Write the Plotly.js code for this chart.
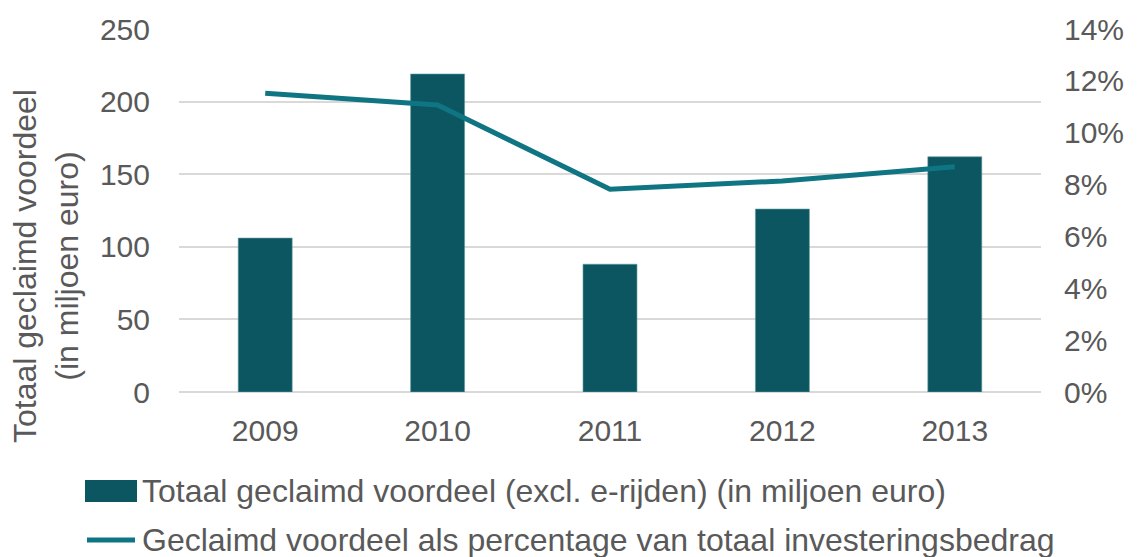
<!DOCTYPE html>
<html><head><meta charset="utf-8">
<script src="https://cdn.plot.ly/plotly-3.0.1.min.js"></script>
<style>html,body{margin:0;padding:0;background:#fff}#chart{width:1139px;height:557px}</style>
</head><body><div id="chart"></div>
<script>
const years = ['2009', '2010', '2011', '2012', '2013'];
const claimed = [106, 219, 88, 126, 162];
const percentage = [11.52, 11.07, 7.82, 8.14, 8.69];
const barName = 'Totaal geclaimd voordeel (excl. e-rijden) (in miljoen euro)';
const lineName = 'Geclaimd voordeel als percentage van totaal investeringsbedrag';
const yTitle = 'Totaal geclaimd voordeel<br>(in miljoen euro)';
const leftTicks = [0, 50, 100, 150, 200, 250];
const rightTicks = [0, 2, 4, 6, 8, 10, 12, 14];

const font = 'Liberation Sans, Arial, sans-serif';
const grey = '#595959';
const barColor = '#0B5660';
const lineColor = '#0F7583';

const W = 1139, H = 557;
const L = 179, T = 29, PW = 862, PH = 363;
const px = x => (x - L) / PW;
const py = y => (T + PH - y) / PH;

Plotly.newPlot('chart', [
  {type: 'bar', x: years, y: claimed, name: barName,
   marker: {color: barColor, line: {color: '#5f9aa0', width: 0.6}}, yaxis: 'y'},
  {type: 'scatter', mode: 'lines', x: years, y: percentage, name: lineName,
   line: {color: lineColor, width: 5}, yaxis: 'y2'}
], {
  width: W, height: H,
  margin: {l: L, r: W - L - PW, t: T, b: H - T - PH},
  paper_bgcolor: '#fff', plot_bgcolor: '#fff',
  font: {family: font, color: grey, size: 30},
  bargap: 0.687,
  showlegend: false,
  xaxis: {type: 'category', showgrid: false, zeroline: false, showline: false,
          ticks: '', tickfont: {size: 30, color: grey}, ticklabelstandoff: 18},
  yaxis: {range: [0, 250], tickvals: leftTicks, ticktext: leftTicks.map(String),
          showgrid: true, gridcolor: '#d9d9d9', gridwidth: 2, zeroline: true, zerolinecolor: '#d9d9d9', zerolinewidth: 2,
          showline: false, ticks: '', ticklabelstandoff: 28,
          tickfont: {size: 30, color: grey}},
  yaxis2: {range: [0, 14], tickvals: rightTicks, ticktext: rightTicks.map(v => v + '%'),
           overlaying: 'y', side: 'right', showgrid: false, zeroline: false, showline: false,
           ticks: '', ticklabelstandoff: 22, tickfont: {size: 30, color: grey}},
  shapes: [
    {type: 'rect', xref: 'paper', yref: 'paper', layer: 'above',
     x0: px(85), x1: px(137), y0: py(480), y1: py(502),
     fillcolor: barColor, line: {width: 0}},
    {type: 'line', xref: 'paper', yref: 'paper', layer: 'above',
     x0: px(87), x1: px(135), y0: py(540), y1: py(540),
     line: {color: lineColor, width: 5}}
  ],
  annotations: [
    {xref: 'paper', yref: 'paper', x: px(46), y: py(266), xanchor: 'center', yanchor: 'middle',
     textangle: -90, text: yTitle, showarrow: false, font: {size: 32, color: grey}},
    {xref: 'paper', yref: 'paper', x: px(140), y: py(491), xanchor: 'left', yanchor: 'middle',
     text: barName, showarrow: false, font: {size: 32, color: grey}},
    {xref: 'paper', yref: 'paper', x: px(140), y: py(540), xanchor: 'left', yanchor: 'middle',
     text: lineName, showarrow: false, font: {size: 32, color: grey}}
  ]
}, {displayModeBar: false, staticPlot: true});
</script></body></html>
